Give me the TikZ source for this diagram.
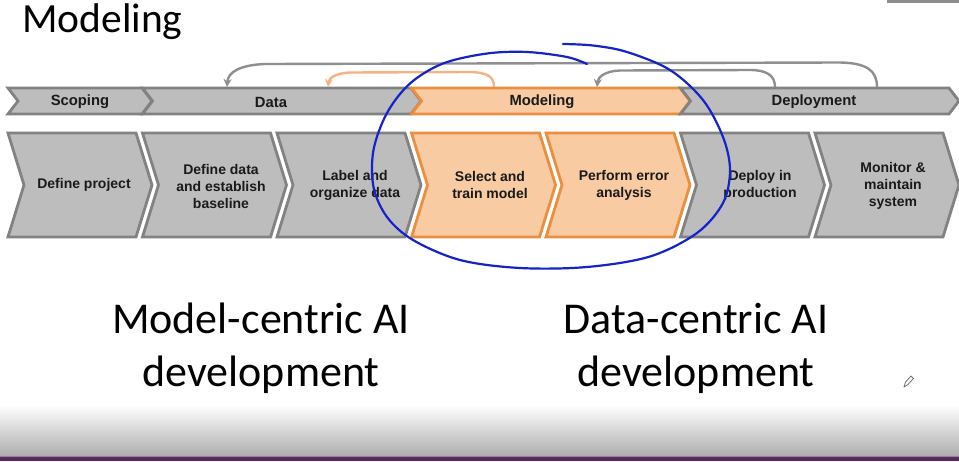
\documentclass[tikz,border=0pt]{standalone}
\usepackage{fontspec}
\setmainfont{Carlito}
\newfontfamily\arialf{Liberation Sans}
\usetikzlibrary{arrows.meta}
\definecolor{chgray}{HTML}{BDBDBD}
\definecolor{chgrayline}{HTML}{828282}
\definecolor{chorange}{HTML}{F8CBA3}
\definecolor{chorangeline}{HTML}{E98F3F}
\definecolor{fbgray}{HTML}{8F8F8F}
\definecolor{fborange}{HTML}{F4B383}
\definecolor{penblue}{HTML}{1424C8}
\definecolor{slidepurple}{HTML}{5A2A5C}
\definecolor{txt}{HTML}{1A1A1A}
\newcommand\mychev[6]{% style, left, tip, depth, top, bottom
  \draw[#1] (#2,#5) -- ({#3-#4},#5) -- (#3,{(#5+#6)/2}) -- ({#3-#4},#6) -- (#2,#6) -- ({#2+#4},{(#5+#6)/2}) -- cycle;}
\begin{document}
\begin{tikzpicture}[x=1pt,y=-1pt,
  graych/.style={fill=chgray,draw=chgrayline,line width=2.8pt,line join=miter},
  orangech/.style={fill=chorange,draw=chorangeline,line width=2.8pt,line join=miter},
  lbl/.style={font=\arialf\bfseries\fontsize{14}{17}\selectfont,text=txt,align=center,inner sep=0pt},
  toplbl/.style={lbl,font=\arialf\bfseries\fontsize{14.8}{17}\selectfont},
  big/.style={font=\fontsize{44}{53}\selectfont,text=black,align=center,inner sep=0pt},
  fb/.style={line width=2.4pt,-{Stealth[length=8pt,width=8pt]}},
]
\useasboundingbox (0,0) rectangle (959,461);
\fill[white] (0,0) rectangle (959,461);
% slide bottom
\shade[top color=white,bottom color=black!32] (0,405) rectangle (959,456);
\fill[slidepurple] (0,456) rectangle (959,461);
\fill[slidepurple!60!white] (0,456) rectangle (959,457);
% top-right bar
\fill[black!45] (887,0) rectangle (959,2.5);

% title
\node[font=\fontsize{41.5}{48}\selectfont,anchor=base west,inner sep=0pt] (title) at (22,32) {Modeling};

% top bands
\mychev{graych}{8}{152}{10}{88}{114}
\mychev{graych}{142.5}{421}{10}{88}{114}
\mychev{orangech}{411.5}{690}{10}{88}{114}
\mychev{graych}{680.5}{959}{10}{88}{114}
\node[toplbl] (scoping) at (80,102) {Scoping};
\node[toplbl] (data) at (271,102) {Data};
\node[toplbl] (modeling) at (542,102) {Modeling};
\node[toplbl] (deployment) at (814,102) {Deployment};

% lower chevrons
\mychev{graych}{8}{152}{16}{133}{237}
\mychev{graych}{142.5}{286.5}{16}{133}{237}
\mychev{graych}{277}{421}{16}{133}{237}
\mychev{orangech}{411.5}{555.5}{16}{133}{237}
\mychev{orangech}{546}{690}{16}{133}{237}
\mychev{graych}{680.5}{824.5}{16}{133}{237}
\mychev{graych}{815}{959}{16}{133}{237}
\node[lbl] (s1) at (84,185) {Define project};
\node[lbl] (s2) at (221,186) {Define data\\and establish\\baseline};
\node[lbl] (s3) at (355,185) {Label and\\organize data};
\node[lbl] (s4) at (490,185) {Select and\\train model};
\node[lbl] (s5) at (624,185) {Perform error\\analysis};
\node[lbl] (s6) at (760,185) {Deploy in\\production};
\node[lbl] (s7) at (893,186) {Monitor \&\\maintain\\system};

% feedback arrows
\coordinate (a1s) at (877,87);
\coordinate (a1e) at (227,87);
\coordinate (a2s) at (494,87);
\coordinate (a2e) at (328,87);
\coordinate (a3s) at (775,87);
\coordinate (a3e) at (597,87);
\draw[fb,draw=fbgray] (a1s) .. controls (877,70) and (866,63) .. (840,62.5)
   -- (265,64) .. controls (240,65) and (228,72) .. (a1e);
\draw[fb,draw=fborange] (a2s) .. controls (494,77) and (488,72.5) .. (470,72)
   -- (350,72.5) .. controls (336,73) and (329,78) .. (a2e);
\draw[fb,draw=fbgray] (a3s) .. controls (775,75) and (766,70) .. (750,70)
   -- (620,70.5) .. controls (605,71) and (598,77) .. (a3e);

% hand-drawn loop
\draw[penblue,line width=2.2pt,line cap=round,line join=round] plot[smooth,tension=0.55] coordinates {
(587,64) (567,57) (527,52) (487,53.5) (443,63.5) (410,83.5) (387,113) (373.5,150)
(373.5,187) (387,217) (413,240) (460,260) (520,268) (587,267) (650,256.5)
(697,233) (723,203) (730,170) (723,137) (703,100) (670,70) (627,52) (593,45.5) (563,44)};

% bottom captions
\node[big] (mc) at (261,348) {Model-centric AI\\development};
\node[big] (dc) at (696,348) {Data-centric AI\\development};

% pen cursor
\draw[black!55,line width=0.8pt,line join=round] (904,387) -- (905.5,382) -- (911,376) -- (913.5,378.5) -- (908,384.5) -- cycle;
\end{tikzpicture}
\end{document}
